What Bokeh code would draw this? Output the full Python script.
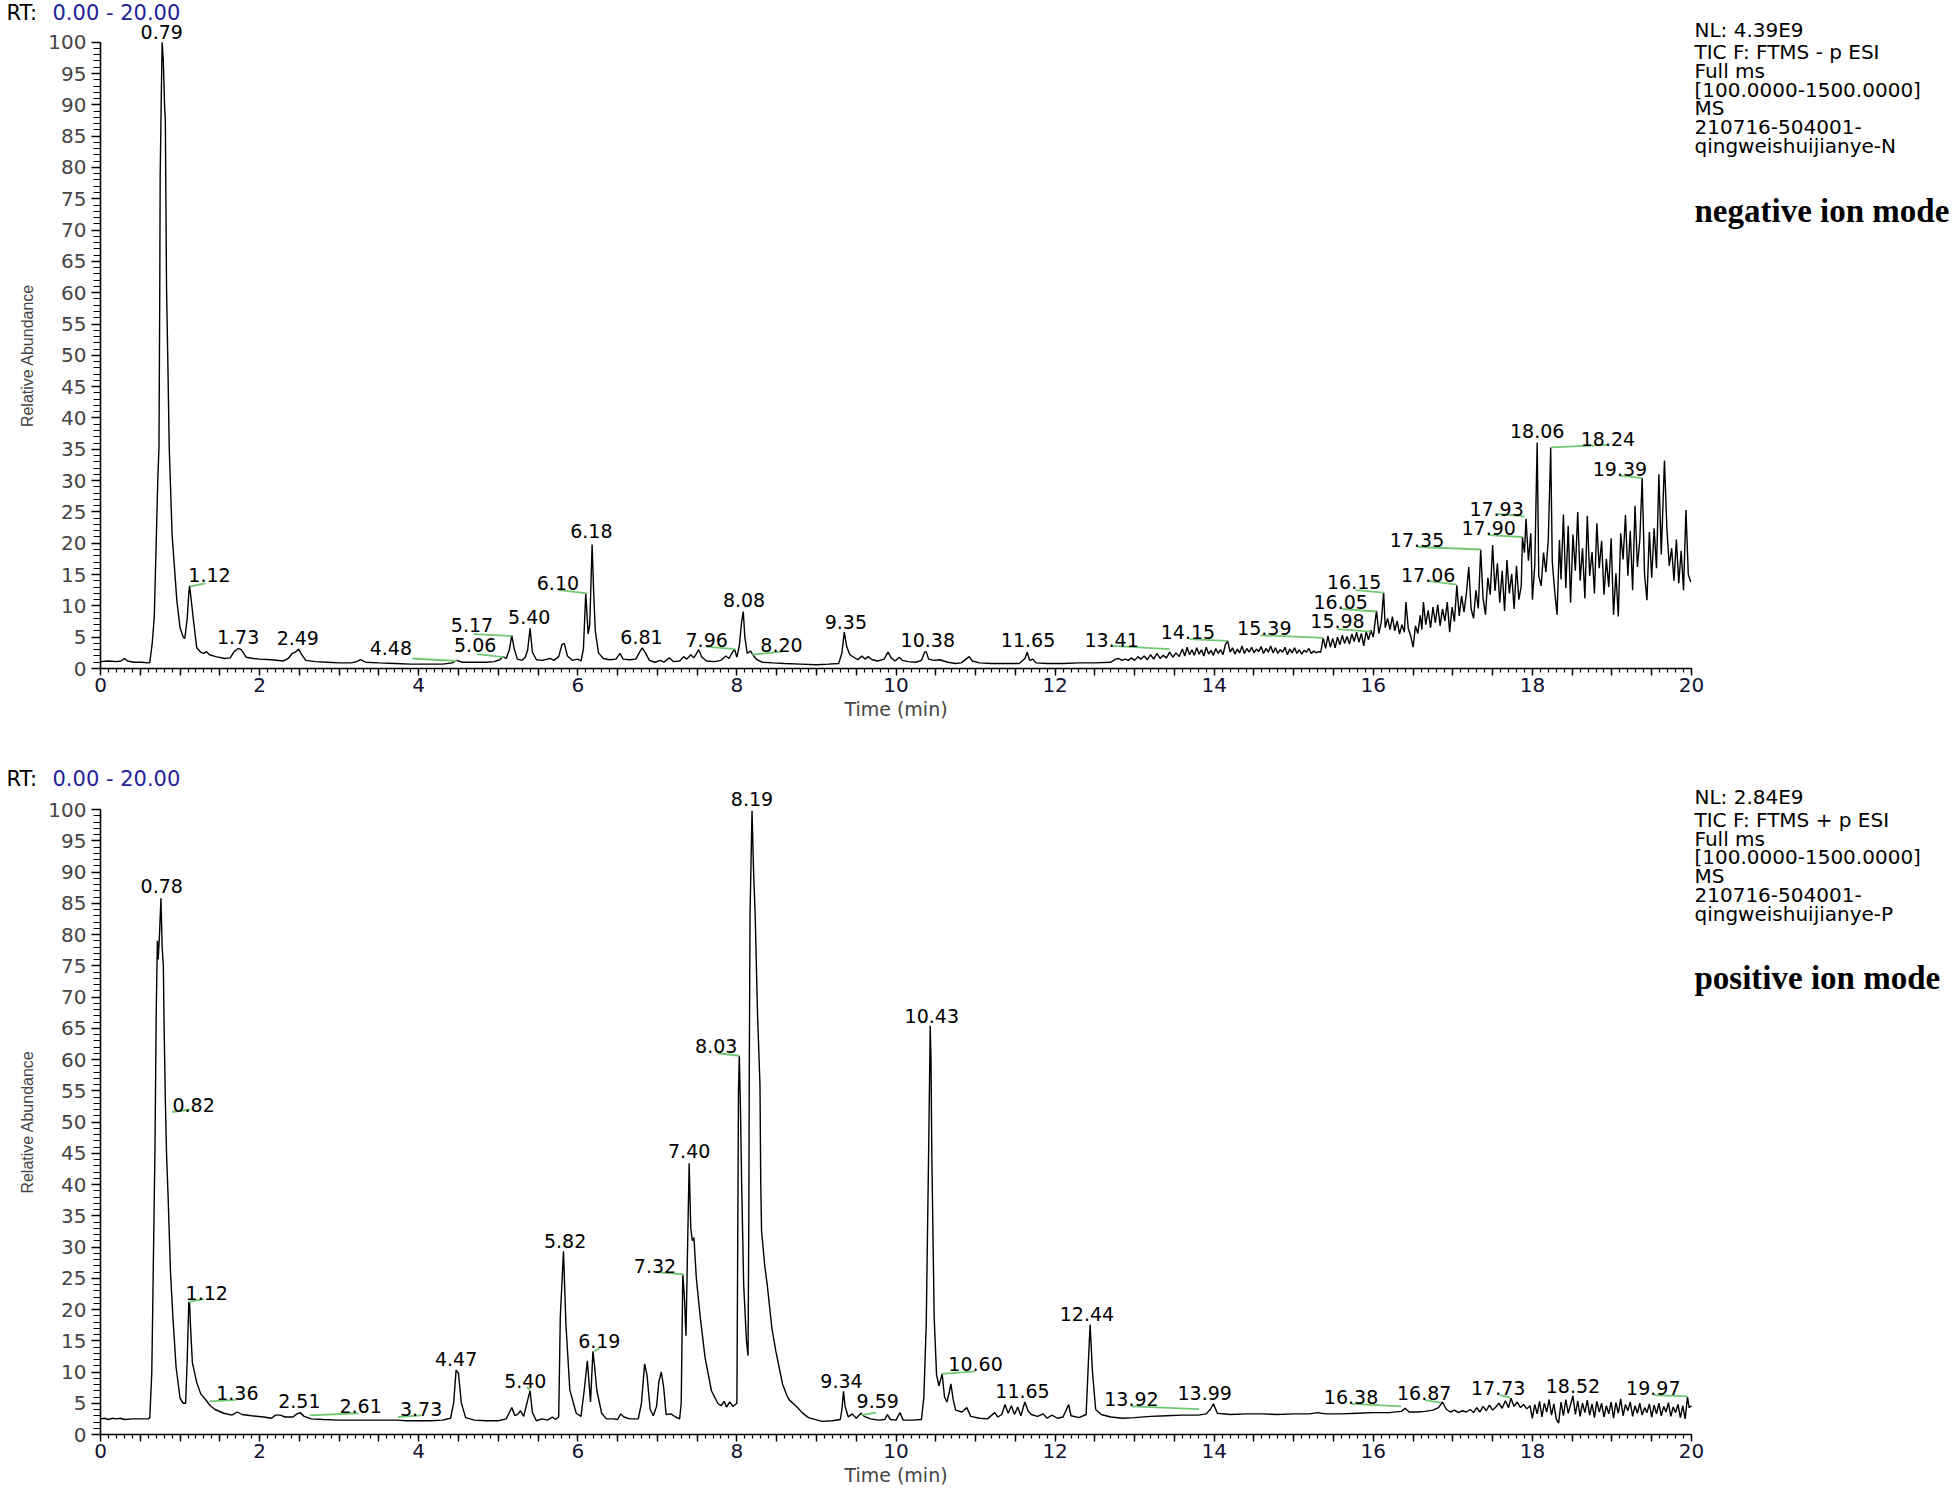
from bokeh.plotting import figure
from bokeh.models import Range1d, FixedTicker, CustomJSTickFormatter, Label, ColumnDataSource
from bokeh.layouts import column
from bokeh.core.properties import value
from bokeh.embed import file_html
from bokeh.resources import INLINE

# ---------------- data: negative ion mode TIC (time min, relative abundance %) ----------------
neg_trace = [
    (0.00, 1.1), (0.10, 1.2), (0.20, 1.1), (0.26, 1.2), (0.30, 1.6), (0.34, 1.2), (0.42, 1.0), (0.52, 1.0),
    (0.60, 0.9), (0.62, 1.0), (0.65, 4.0), (0.676, 8.2), (0.70, 20.0), (0.72, 30.0), (0.735, 35.3),
    (0.745, 60.0), (0.75, 78.4), (0.765, 92.0), (0.775, 100.0), (0.79, 97.0), (0.805, 90.0), (0.815, 87.5),
    (0.83, 61.0), (0.847, 48.6), (0.864, 35.3), (0.90, 21.4), (0.96, 10.8), (1.00, 6.5), (1.04, 5.0),
    (1.06, 4.8), (1.09, 8.0), (1.11, 12.0), (1.12, 13.2), (1.14, 11.0), (1.17, 7.5), (1.21, 3.3),
    (1.26, 2.6), (1.30, 2.4), (1.33, 2.7), (1.37, 2.2), (1.45, 1.9), (1.56, 1.6), (1.63, 1.7), (1.68, 2.7),
    (1.73, 3.2), (1.77, 3.0), (1.83, 1.8), (1.92, 1.6), (2.00, 1.5), (2.15, 1.4), (2.30, 1.2), (2.36, 1.6),
    (2.41, 2.4), (2.45, 2.6), (2.49, 3.1), (2.53, 2.2), (2.58, 1.3), (2.70, 1.1), (2.85, 1.0), (3.00, 0.9),
    (3.15, 0.9), (3.22, 1.1), (3.27, 1.4), (3.33, 1.0), (3.50, 0.9), (3.70, 0.8), (3.90, 0.7), (4.10, 0.7),
    (4.30, 0.7), (4.42, 0.9), (4.48, 1.3), (4.55, 1.0), (4.70, 1.0), (4.85, 1.0), (4.95, 1.1), (5.02, 1.4),
    (5.06, 1.9), (5.10, 1.6), (5.14, 3.0), (5.17, 5.3), (5.20, 3.2), (5.24, 1.5), (5.30, 1.3), (5.34, 1.8),
    (5.37, 3.0), (5.40, 6.4), (5.43, 2.6), (5.48, 1.4), (5.55, 1.3), (5.65, 1.6), (5.70, 1.3), (5.76, 1.9),
    (5.80, 3.8), (5.83, 4.0), (5.87, 2.0), (5.93, 1.3), (6.00, 1.5), (6.04, 1.2), (6.07, 3.0), (6.10, 12.0),
    (6.13, 5.5), (6.15, 7.0), (6.18, 19.8), (6.20, 12.0), (6.22, 6.0), (6.26, 2.5), (6.32, 1.6), (6.40, 1.4),
    (6.48, 1.5), (6.53, 2.4), (6.57, 1.5), (6.65, 1.4), (6.73, 1.5), (6.78, 2.7), (6.81, 3.3), (6.85, 2.5),
    (6.90, 1.3), (6.97, 1.0), (7.04, 1.3), (7.08, 1.0), (7.15, 1.7), (7.20, 1.1), (7.28, 1.2), (7.33, 1.9),
    (7.37, 1.5), (7.42, 2.2), (7.46, 1.7), (7.52, 3.0), (7.56, 1.8), (7.62, 1.2), (7.72, 1.1), (7.80, 1.3),
    (7.86, 2.0), (7.90, 1.6), (7.94, 2.5), (7.97, 3.1), (8.00, 1.8), (8.03, 3.6), (8.06, 7.5), (8.08, 9.1),
    (8.10, 5.0), (8.13, 2.4), (8.17, 2.8), (8.20, 2.2), (8.25, 1.4), (8.32, 1.0), (8.45, 0.9), (8.60, 0.8),
    (8.80, 0.7), (9.00, 0.6), (9.15, 0.7), (9.28, 0.8), (9.32, 2.5), (9.35, 5.8), (9.38, 3.5), (9.42, 2.2),
    (9.47, 1.8), (9.52, 1.4), (9.57, 2.0), (9.61, 1.5), (9.65, 1.9), (9.70, 1.4), (9.77, 1.2), (9.85, 1.5),
    (9.90, 2.6), (9.94, 1.7), (9.99, 1.2), (10.04, 1.8), (10.08, 1.3), (10.15, 1.1), (10.25, 1.0),
    (10.32, 1.3), (10.36, 2.6), (10.38, 2.7), (10.41, 1.5), (10.48, 1.3), (10.55, 1.4), (10.65, 1.0),
    (10.75, 0.8), (10.82, 0.9), (10.88, 1.5), (10.92, 1.9), (10.96, 1.2), (11.05, 0.9), (11.20, 0.8),
    (11.40, 0.8), (11.55, 0.8), (11.62, 1.6), (11.65, 2.6), (11.68, 1.3), (11.72, 1.5), (11.76, 0.9),
    (11.90, 0.8), (12.10, 0.8), (12.30, 0.9), (12.50, 0.9), (12.70, 1.0), (12.76, 1.5), (12.80, 1.6),
    (12.84, 1.3), (12.88, 1.5), (12.92, 1.3), (12.96, 1.7), (13.00, 1.3), (13.04, 1.9), (13.08, 1.5),
    (13.12, 2.0), (13.16, 1.4), (13.20, 2.2), (13.24, 1.5), (13.28, 2.4), (13.32, 1.6), (13.36, 2.1),
    (13.40, 1.7), (13.44, 2.6), (13.48, 1.8), (13.52, 2.5), (13.56, 1.9), (13.60, 3.1), (13.63, 2.0),
    (13.66, 3.4), (13.69, 2.2), (13.72, 3.0), (13.75, 2.1), (13.78, 3.3), (13.81, 2.3), (13.84, 3.0),
    (13.87, 2.0), (13.90, 3.4), (13.93, 2.3), (13.96, 2.9), (13.99, 2.1), (14.02, 3.2), (14.05, 2.4),
    (14.08, 3.0), (14.11, 2.2), (14.14, 3.8), (14.17, 4.4), (14.20, 2.6), (14.23, 3.3), (14.26, 2.3),
    (14.29, 3.1), (14.32, 2.5), (14.35, 3.6), (14.38, 2.4), (14.41, 3.2), (14.44, 2.6), (14.47, 3.4),
    (14.50, 2.5), (14.53, 3.1), (14.56, 2.7), (14.59, 3.5), (14.62, 2.4), (14.65, 3.2), (14.68, 2.6),
    (14.71, 3.6), (14.74, 2.5), (14.77, 3.3), (14.80, 2.4), (14.83, 3.0), (14.86, 2.6), (14.89, 3.4),
    (14.92, 2.2), (14.95, 3.1), (14.98, 2.5), (15.01, 3.3), (15.04, 2.4), (15.07, 3.0), (15.10, 2.3),
    (15.13, 2.9), (15.16, 2.6), (15.19, 3.2), (15.22, 2.4), (15.25, 2.8), (15.28, 2.5), (15.31, 2.7),
    (15.34, 2.6), (15.37, 4.9), (15.40, 3.2), (15.43, 5.2), (15.46, 3.4), (15.49, 4.8), (15.52, 3.3),
    (15.55, 5.0), (15.58, 3.8), (15.61, 5.3), (15.64, 4.0), (15.67, 5.1), (15.70, 3.9), (15.73, 5.5),
    (15.76, 4.3), (15.79, 5.8), (15.82, 4.2), (15.85, 5.6), (15.88, 3.6), (15.91, 5.9), (15.94, 4.6),
    (15.97, 6.1), (16.00, 5.0), (16.02, 7.2), (16.04, 9.2), (16.07, 5.6), (16.10, 7.4), (16.13, 12.1),
    (16.15, 6.5), (16.18, 8.0), (16.21, 6.2), (16.24, 8.3), (16.27, 6.0), (16.30, 7.6), (16.33, 5.5),
    (16.36, 7.0), (16.39, 5.8), (16.41, 10.6), (16.44, 6.4), (16.47, 5.2), (16.50, 3.4), (16.53, 6.8),
    (16.56, 5.6), (16.59, 8.5), (16.61, 6.2), (16.63, 10.6), (16.66, 7.0), (16.69, 9.3), (16.72, 6.5),
    (16.75, 9.8), (16.78, 7.3), (16.81, 10.2), (16.84, 6.8), (16.87, 9.5), (16.90, 7.6), (16.93, 10.6),
    (16.96, 5.8), (16.99, 9.8), (17.02, 7.5), (17.05, 13.3), (17.08, 8.4), (17.11, 11.6), (17.14, 9.0),
    (17.17, 12.0), (17.20, 16.2), (17.23, 9.5), (17.26, 8.0), (17.29, 12.5), (17.32, 9.6), (17.35, 19.0),
    (17.38, 11.2), (17.41, 8.6), (17.44, 14.5), (17.47, 11.8), (17.50, 19.7), (17.53, 12.4), (17.56, 16.8),
    (17.59, 10.5), (17.62, 15.6), (17.65, 9.2), (17.68, 17.3), (17.71, 12.0), (17.74, 15.1), (17.77, 9.5),
    (17.80, 16.4), (17.83, 11.0), (17.86, 13.2), (17.875, 21.0), (17.90, 18.5), (17.92, 23.9),
    (17.95, 17.2), (17.98, 21.6), (18.00, 11.0), (18.03, 16.5), (18.06, 36.1), (18.08, 14.8),
    (18.11, 13.2), (18.14, 18.5), (18.17, 15.4), (18.20, 20.6), (18.23, 35.3), (18.25, 17.0),
    (18.28, 12.4), (18.31, 8.6), (18.34, 20.5), (18.36, 14.2), (18.39, 24.6), (18.42, 12.8), (18.45, 22.8),
    (18.48, 10.5), (18.51, 21.4), (18.54, 15.6), (18.57, 25.0), (18.60, 14.0), (18.63, 19.2), (18.66, 11.2),
    (18.69, 24.4), (18.72, 14.8), (18.75, 18.6), (18.78, 12.0), (18.81, 23.2), (18.84, 16.0), (18.87, 20.4),
    (18.90, 11.8), (18.93, 17.5), (18.96, 13.0), (18.99, 20.8), (19.02, 8.6), (19.05, 15.2), (19.08, 8.3),
    (19.11, 21.6), (19.14, 17.4), (19.17, 24.5), (19.20, 14.8), (19.23, 22.0), (19.26, 12.5), (19.29, 26.0),
    (19.32, 16.2), (19.35, 20.5), (19.38, 30.4), (19.41, 15.0), (19.44, 10.9), (19.47, 21.8), (19.50, 14.5),
    (19.53, 22.4), (19.56, 16.0), (19.59, 31.0), (19.62, 18.2), (19.645, 27.5), (19.66, 33.2), (19.69, 22.5),
    (19.72, 16.4), (19.75, 19.2), (19.78, 14.0), (19.81, 20.6), (19.84, 13.6), (19.87, 18.8), (19.90, 12.5),
    (19.93, 25.3), (19.96, 15.0), (19.99, 13.8),
]
neg_time = [p[0] for p in neg_trace]
neg_abund = [p[1] for p in neg_trace]

# ---------------- data: positive ion mode TIC ----------------
pos_trace = [
    (0.00, 2.5), (0.05, 2.6), (0.10, 2.4), (0.15, 2.6), (0.20, 2.5), (0.25, 2.6), (0.30, 2.4), (0.40, 2.5),
    (0.50, 2.5), (0.60, 2.5), (0.62, 2.7), (0.645, 10.0), (0.665, 28.0), (0.685, 46.0), (0.70, 67.0),
    (0.715, 79.0), (0.725, 76.0), (0.74, 79.5), (0.76, 85.8), (0.775, 78.0), (0.79, 75.0), (0.80, 65.0),
    (0.815, 53.5), (0.83, 45.0), (0.85, 38.0), (0.88, 26.0), (0.91, 18.8), (0.95, 10.8), (1.00, 5.8),
    (1.04, 5.0), (1.07, 5.0), (1.09, 12.0), (1.11, 21.2), (1.12, 21.0), (1.13, 17.7), (1.155, 11.5),
    (1.21, 8.3), (1.26, 6.5), (1.32, 5.6), (1.38, 4.6), (1.44, 4.0), (1.55, 3.4), (1.65, 3.1), (1.72, 3.6),
    (1.78, 3.2), (1.90, 3.0), (2.05, 2.8), (2.15, 2.6), (2.20, 3.1), (2.26, 3.1), (2.32, 2.8), (2.42, 2.8),
    (2.47, 3.3), (2.51, 3.5), (2.56, 2.9), (2.65, 2.5), (2.80, 2.4), (3.00, 2.3), (3.20, 2.3), (3.40, 2.3),
    (3.60, 2.3), (3.73, 2.3), (3.85, 2.2), (4.00, 2.2), (4.15, 2.2), (4.30, 2.3), (4.40, 2.6), (4.44, 5.1),
    (4.47, 10.3), (4.50, 9.8), (4.535, 5.1), (4.59, 2.7), (4.70, 2.3), (4.85, 2.2), (5.00, 2.2), (5.10, 2.5),
    (5.17, 4.3), (5.21, 3.0), (5.25, 3.3), (5.28, 3.8), (5.32, 2.9), (5.37, 5.5), (5.40, 7.0), (5.43, 3.5),
    (5.48, 2.2), (5.55, 2.5), (5.62, 2.3), (5.68, 2.8), (5.72, 2.4), (5.76, 2.8), (5.78, 18.8), (5.82, 29.3),
    (5.85, 17.8), (5.90, 7.1), (5.98, 3.4), (6.04, 2.9), (6.08, 7.0), (6.12, 11.8), (6.16, 5.2), (6.19, 13.3),
    (6.21, 11.0), (6.24, 7.0), (6.30, 3.4), (6.36, 2.5), (6.45, 2.5), (6.50, 2.4), (6.54, 3.3), (6.58, 2.8),
    (6.65, 2.5), (6.76, 2.5), (6.80, 5.0), (6.84, 11.3), (6.87, 9.5), (6.91, 4.0), (6.95, 3.0), (6.99, 4.5),
    (7.02, 8.5), (7.05, 10.0), (7.08, 7.5), (7.11, 3.2), (7.17, 3.3), (7.23, 2.8), (7.28, 2.5), (7.30, 5.0),
    (7.32, 25.6), (7.34, 22.0), (7.36, 15.8), (7.38, 30.0), (7.40, 43.4), (7.42, 33.0), (7.44, 31.0),
    (7.46, 31.5), (7.49, 25.0), (7.54, 18.7), (7.60, 12.3), (7.68, 7.0), (7.76, 5.0), (7.80, 4.6),
    (7.84, 5.3), (7.87, 4.4), (7.91, 5.2), (7.95, 4.5), (7.98, 4.8), (8.00, 5.0), (8.01, 30.0), (8.02, 55.0),
    (8.03, 60.6), (8.045, 52.0), (8.06, 40.0), (8.085, 24.0), (8.12, 15.0), (8.14, 12.6), (8.15, 35.0),
    (8.155, 56.0), (8.165, 83.0), (8.19, 99.8), (8.21, 90.0), (8.23, 83.0), (8.26, 67.0), (8.29, 56.0),
    (8.30, 40.0), (8.31, 32.6), (8.35, 27.0), (8.38, 24.1), (8.44, 17.0), (8.49, 13.3), (8.575, 8.0),
    (8.63, 6.2), (8.66, 5.5), (8.74, 4.6), (8.82, 3.5), (8.90, 2.7), (9.07, 2.1), (9.20, 2.2), (9.30, 2.4),
    (9.32, 4.0), (9.34, 6.9), (9.36, 4.5), (9.40, 2.8), (9.45, 3.3), (9.50, 2.6), (9.56, 3.4), (9.60, 2.9),
    (9.68, 2.5), (9.78, 2.3), (9.86, 2.4), (9.89, 3.2), (9.93, 2.4), (10.00, 2.3), (10.05, 3.5),
    (10.09, 2.3), (10.20, 2.3), (10.32, 2.4), (10.35, 6.0), (10.38, 17.6), (10.41, 45.0), (10.425, 60.0),
    (10.43, 65.4), (10.44, 60.0), (10.45, 45.0), (10.48, 18.7), (10.51, 9.5), (10.54, 7.8), (10.58, 9.7),
    (10.61, 6.0), (10.64, 5.2), (10.67, 6.8), (10.69, 8.1), (10.72, 5.5), (10.75, 3.9), (10.83, 3.6),
    (10.89, 4.3), (10.94, 2.9), (11.05, 2.6), (11.15, 2.5), (11.24, 3.5), (11.28, 2.8), (11.33, 3.2),
    (11.37, 4.8), (11.41, 3.4), (11.45, 4.6), (11.49, 3.2), (11.53, 4.4), (11.57, 3.0), (11.62, 5.2),
    (11.66, 3.8), (11.70, 3.2), (11.78, 2.9), (11.85, 3.3), (11.90, 2.6), (11.96, 3.1), (12.03, 2.6),
    (12.10, 2.8), (12.17, 4.8), (12.20, 3.0), (12.30, 2.7), (12.39, 3.2), (12.42, 12.0), (12.44, 17.6),
    (12.47, 10.0), (12.51, 4.0), (12.58, 3.2), (12.70, 2.8), (12.85, 2.6), (13.00, 2.7), (13.20, 2.9),
    (13.40, 3.0), (13.60, 3.1), (13.80, 3.1), (13.90, 3.3), (13.95, 4.0), (13.99, 4.9), (14.04, 3.4),
    (14.20, 3.2), (14.40, 3.3), (14.60, 3.3), (14.80, 3.2), (15.00, 3.3), (15.20, 3.3), (15.30, 3.5),
    (15.40, 3.3), (15.60, 3.3), (15.80, 3.4), (16.00, 3.5), (16.20, 3.5), (16.35, 3.7), (16.40, 4.2),
    (16.45, 3.6), (16.55, 3.6), (16.65, 3.7), (16.75, 3.9), (16.82, 4.3), (16.87, 5.2), (16.92, 4.0),
    (16.97, 3.6), (17.02, 3.9), (17.07, 3.5), (17.12, 3.8), (17.17, 3.6), (17.22, 4.0), (17.26, 3.5),
    (17.30, 4.3), (17.34, 3.6), (17.38, 4.5), (17.42, 3.8), (17.46, 4.7), (17.50, 3.9), (17.54, 4.4),
    (17.58, 5.0), (17.62, 4.2), (17.66, 5.4), (17.70, 4.3), (17.73, 5.8), (17.77, 4.5), (17.81, 5.2),
    (17.85, 4.3), (17.89, 4.8), (17.93, 4.1), (17.97, 4.6), (18.00, 2.6), (18.03, 4.8), (18.06, 3.3),
    (18.09, 5.3), (18.12, 2.8), (18.15, 5.0), (18.18, 3.6), (18.21, 5.6), (18.24, 3.1), (18.27, 4.9),
    (18.30, 2.5), (18.33, 1.8), (18.36, 5.2), (18.39, 3.0), (18.42, 5.6), (18.45, 3.4), (18.48, 4.8),
    (18.51, 6.2), (18.54, 3.2), (18.57, 5.4), (18.60, 2.9), (18.63, 5.0), (18.66, 3.5), (18.69, 5.5),
    (18.72, 3.1), (18.75, 4.9), (18.78, 2.7), (18.81, 5.3), (18.84, 3.6), (18.87, 5.0), (18.90, 2.8),
    (18.93, 4.6), (18.96, 3.3), (18.99, 5.2), (19.02, 2.6), (19.05, 5.1), (19.08, 3.4), (19.11, 5.7),
    (19.14, 3.0), (19.17, 4.8), (19.20, 3.8), (19.23, 5.2), (19.26, 2.9), (19.29, 4.6), (19.32, 3.4),
    (19.35, 5.0), (19.38, 3.1), (19.41, 4.3), (19.44, 3.5), (19.47, 4.9), (19.50, 2.8), (19.53, 4.7),
    (19.56, 3.3), (19.59, 5.0), (19.62, 3.0), (19.65, 4.5), (19.68, 3.6), (19.71, 5.1), (19.74, 2.9),
    (19.77, 4.4), (19.80, 3.5), (19.83, 4.8), (19.86, 2.7), (19.89, 4.6), (19.92, 2.5), (19.95, 6.0),
    (19.97, 4.3), (20.00, 4.6),
]
pos_time = [p[0] for p in pos_trace]
pos_abund = [p[1] for p in pos_trace]

# ---------------- peak labels (text, label x, label y) ----------------
neg_label_text = ["0.79", "1.12", "1.73", "2.49", "4.48", "5.06", "5.17", "5.40", "6.10", "6.18", "6.81",
                  "7.96", "8.08", "8.20", "9.35", "10.38", "11.65", "13.41", "14.15", "15.39", "15.98",
                  "16.05", "16.15", "17.06", "17.35", "17.90", "17.93", "18.06", "18.24", "19.39"]
neg_label_x = [0.77, 1.37, 1.73, 2.48, 3.65, 4.71, 4.67, 5.39, 5.75, 6.17, 6.80, 7.62, 8.09, 8.56, 9.37,
               10.40, 11.66, 12.71, 13.67, 14.63, 15.55, 15.59, 15.76, 16.69, 16.55, 17.45, 17.55, 18.06,
               18.95, 19.10]
neg_label_y = [101.7, 15.0, 5.1, 4.9, 3.3, 3.7, 6.9, 8.3, 13.6, 21.9, 5.1, 4.6, 10.9, 3.7, 7.5, 4.5, 4.5,
               4.5, 5.9, 6.5, 7.6, 10.6, 13.8, 15.0, 20.5, 22.5, 25.5, 38.0, 36.7, 31.9]
# leader lines (green) from peak apex to label
neg_lead_x0 = [1.13, 3.92, 4.73, 4.69, 5.76, 7.61, 8.19, 12.71, 13.69, 14.58, 15.55, 15.61, 15.78, 16.68,
               16.56, 17.45, 17.56, 18.24, 19.10]
neg_lead_y0 = [13.1, 1.6, 2.3, 5.5, 12.5, 3.5, 2.2, 3.6, 4.7, 5.3, 6.3, 9.5, 12.5, 14.0, 19.4, 21.3, 24.7,
               35.3, 30.8]
neg_lead_x1 = [1.32, 4.48, 5.07, 5.17, 6.12, 7.98, 8.57, 13.44, 14.17, 15.38, 15.97, 16.04, 16.13, 17.05,
               17.35, 17.875, 17.90, 18.95, 19.38]
neg_lead_y1 = [13.6, 1.2, 1.8, 5.2, 12.0, 3.1, 2.7, 3.1, 4.4, 4.9, 5.9, 9.1, 12.1, 13.4, 19.0, 21.0, 24.3,
               35.7, 30.4]

pos_label_text = ["0.78", "0.82", "1.12", "1.36", "2.51", "2.61", "3.73", "4.47", "5.40", "5.82", "6.19",
                  "7.32", "7.40", "8.03", "8.19", "9.34", "9.59", "10.43", "10.60", "11.65", "12.44",
                  "13.92", "13.99", "16.38", "16.87", "17.73", "18.52", "19.97"]
pos_label_x = [0.77, 1.17, 1.335, 1.72, 2.50, 3.27, 4.03, 4.47, 5.34, 5.84, 6.27, 6.97, 7.40, 7.74, 8.19,
               9.315, 9.77, 10.45, 11.0, 11.59, 12.40, 12.96, 13.88, 15.72, 16.64, 17.57, 18.51, 19.52]
pos_label_y = [87.7, 52.8, 22.6, 6.7, 5.3, 4.5, 4.1, 12.1, 8.5, 31.0, 14.9, 27.0, 45.3, 62.2, 101.7, 8.6,
               5.3, 67.0, 11.3, 6.9, 19.3, 5.7, 6.7, 6.0, 6.6, 7.4, 7.7, 7.4]
pos_lead_x0 = [0.90, 1.11, 1.37, 2.63, 3.74, 5.40, 6.21, 6.99, 7.76, 9.56, 10.58, 12.96, 15.73, 16.65,
               17.59, 19.53]
pos_lead_y0 = [51.6, 21.2, 5.3, 3.05, 2.8, 7.1, 13.3, 26.0, 61.0, 3.1, 9.7, 4.5, 4.9, 5.5, 6.3, 6.3]
pos_lead_x1 = [1.13, 1.30, 1.71, 3.24, 4.03, 5.36, 6.27, 7.34, 8.03, 9.75, 10.99, 13.81, 16.35, 16.85,
               17.72, 19.95]
pos_lead_y1 = [52.0, 21.7, 5.55, 3.4, 3.05, 7.6, 13.8, 25.6, 60.6, 3.5, 10.1, 4.05, 4.5, 5.1, 5.9, 6.1]

neg_header = ["NL: 4.39E9", "TIC F: FTMS - p ESI", "Full ms", "[100.0000-1500.0000]", "MS",
              "210716-504001-", "qingweishuijianye-N"]
pos_header = ["NL: 2.84E9", "TIC F: FTMS + p ESI", "Full ms", "[100.0000-1500.0000]", "MS",
              "210716-504001-", "qingweishuijianye-P"]
x_tick_values = [i * 0.5 for i in range(41)]
x_minor_values = [i * 0.1 for i in range(201)]
y_tick_values = list(range(0, 101, 5))
y_minor_values = list(range(0, 101))

FONT = "DejaVu Sans"
GREEN = "#72c872"
PX_PER_MIN = 79.55   # horizontal scale shared by both panels
X0_PX = 100          # canvas x of t = 0
W = 1956


def make_panel(height, y_start, y_end, t, a, ltext, lx, ly, lx0, ly0, lx1, ly1,
               header, mode_text, rt_dy):
    # the frame covers the whole canvas; axes are pinned at x=0 / y=0
    x_start = -X0_PX / PX_PER_MIN
    x_end = x_start + W / PX_PER_MIN
    p = figure(width=W, height=height, output_backend="svg", toolbar_location=None,
               x_range=Range1d(x_start, x_end), y_range=Range1d(y_start, y_end),
               min_border=0, min_border_left=0, min_border_right=0, min_border_top=0,
               min_border_bottom=0)
    p.outline_line_color = None
    p.grid.visible = False
    p.background_fill_color = "white"
    p.border_fill_color = "white"

    p.line(t, a, line_color="black", line_width=1.4)
    p.segment(x0="x0", y0="y0", x1="x1", y1="y1", line_color=GREEN, line_width=1.8,
              source=ColumnDataSource(dict(x0=lx0, y0=ly0, x1=lx1, y1=ly1)))
    p.text(x="x", y="y", text="text", source=ColumnDataSource(dict(x=lx, y=ly, text=ltext)),
           text_font=value(FONT), text_font_size=value("19px"), text_color="black",
           text_align="center", text_baseline="middle")

    ax = p.xaxis[0]
    ax.fixed_location = 0
    ax.ticker = FixedTicker(ticks=x_tick_values, minor_ticks=x_minor_values)
    ax.formatter = CustomJSTickFormatter(
        code="return (Math.abs(tick - 2*Math.round(tick/2)) < 1e-6) ? tick.toFixed(0) : '';")
    ax.bounds = (0, 20)
    ax.major_tick_in = 0
    ax.major_tick_out = 7
    ax.minor_tick_in = 0
    ax.minor_tick_out = 4
    ax.axis_line_width = 1.6
    ax.major_tick_line_width = 1.4
    ax.minor_tick_line_width = 1.2
    ax.major_label_text_font = FONT
    ax.major_label_text_font_size = "20px"
    ax.major_label_text_color = "#111133"
    ax.major_label_standoff = 2
    ax.axis_label = "Time (min)"
    ax.axis_label_text_font = FONT
    ax.axis_label_text_font_size = "19px"
    ax.axis_label_text_font_style = "normal"
    ax.axis_label_standoff = 3

    ay = p.yaxis[0]
    ay.fixed_location = 0
    ay.ticker = FixedTicker(ticks=y_tick_values, minor_ticks=y_minor_values)
    ay.bounds = (0, 100)
    ay.major_tick_in = 0
    ay.major_tick_out = 9
    ay.minor_tick_in = 0
    ay.minor_tick_out = 7
    ay.axis_line_width = 1.6
    ay.major_tick_line_width = 1.3
    ay.minor_tick_line_width = 1.1
    ay.major_label_text_font = FONT
    ay.major_label_text_font_size = "20px"
    ay.major_label_standoff = 5
    ay.axis_label = "Relative Abundance"
    ay.axis_label_text_font = "Liberation Sans"
    ay.axis_label_text_font_size = "16px"
    ay.axis_label_text_font_style = "normal"
    ay.axis_label_standoff = 9

    # RT range header
    p.add_layout(Label(x=0, y=100, x_offset=-94, y_offset=rt_dy, text="RT:", text_font=FONT,
                       text_font_size="21px", text_color="black", text_baseline="middle"))
    p.add_layout(Label(x=0, y=100, x_offset=-48, y_offset=rt_dy, text="0.00 - 20.00", text_font=FONT,
                       text_font_size="21px", text_color="#1f1f99", text_baseline="middle"))
    # instrument info block on the right
    offs = [12.4, -10, -29, -47.6, -66, -85, -104]
    for line, dy in zip(header, offs):
        p.add_layout(Label(x=20, y=100, x_offset=3, y_offset=dy, text=line, text_font=FONT,
                           text_font_size="20px", text_color="black", text_baseline="middle"))
    p.add_layout(Label(x=20, y=100, x_offset=3, y_offset=-168.5, text=mode_text,
                       text_font="Liberation Serif", text_font_style="bold", text_font_size="33px",
                       text_color="black", text_baseline="middle"))
    return p


# panel 1: canvas y 0..745 (y=0 at 668, y=100 at 41.7); panel 2: canvas y 745..1488 (y=0 at 1434)
H1, H2 = 745, 743
p1 = make_panel(H1, -(H1 - 668) / 6.263, 668 / 6.263, neg_time, neg_abund, neg_label_text, neg_label_x,
                neg_label_y, neg_lead_x0, neg_lead_y0, neg_lead_x1, neg_lead_y1, neg_header,
                "negative ion mode", 29.0)
p2 = make_panel(H2, -(H1 + H2 - 1434) / 6.25, (1434 - H1) / 6.25, pos_time, pos_abund, pos_label_text,
                pos_label_x, pos_label_y, pos_lead_x0, pos_lead_y0, pos_lead_x1, pos_lead_y1, pos_header,
                "positive ion mode", 30.3)

layout = column(p1, p2, spacing=0)
open("out.html", "w").write(file_html(layout, INLINE))
